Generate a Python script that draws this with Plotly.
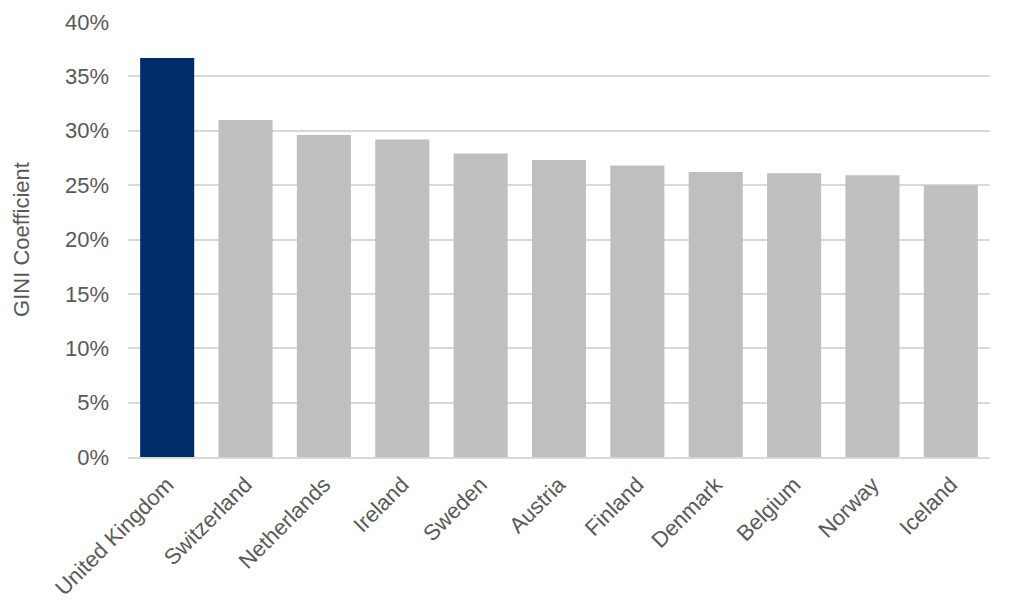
import plotly.graph_objects as go

countries = ["United Kingdom", "Switzerland", "Netherlands", "Ireland", "Sweden",
             "Austria", "Finland", "Denmark", "Belgium", "Norway", "Iceland"]
gini = [0.367, 0.310, 0.296, 0.292, 0.279, 0.273, 0.268, 0.262, 0.261, 0.259, 0.250]
highlight = "United Kingdom"
y_ticks = [0, 0.05, 0.10, 0.15, 0.20, 0.25, 0.30, 0.35, 0.40]

colors = ["#002D6A" if c == highlight else "#BFBFBF" for c in countries]

fig = go.Figure(go.Bar(x=countries, y=gini, marker_color=colors,
                       marker_line_width=0, width=0.69))

font = dict(family="Liberation Sans, Arial, sans-serif", size=22, color="#595959")
fig.update_layout(
    width=1022, height=607,
    margin=dict(l=120, r=40, t=14, b=158),
    paper_bgcolor="white", plot_bgcolor="white",
    font=font, showlegend=False,
)
fig.update_xaxes(tickangle=-45, showline=True, linecolor="#D9D9D9", linewidth=2,
                 ticks="outside", ticklen=4, tickcolor="rgba(0,0,0,0)",
                 tickfont=font, range=[-0.5, len(countries) - 0.5], automargin=False)
fig.update_yaxes(range=[0, 0.40], tickvals=y_ticks, tickformat=".0%",
                 showgrid=True, gridcolor="#D9D9D9", gridwidth=1.5,
                 zeroline=False, ticklabelstandoff=18, tickfont=font, automargin=False,
                 title=dict(text="GINI Coefficient", font=font, standoff=29))
fig.write_html("out.html")
